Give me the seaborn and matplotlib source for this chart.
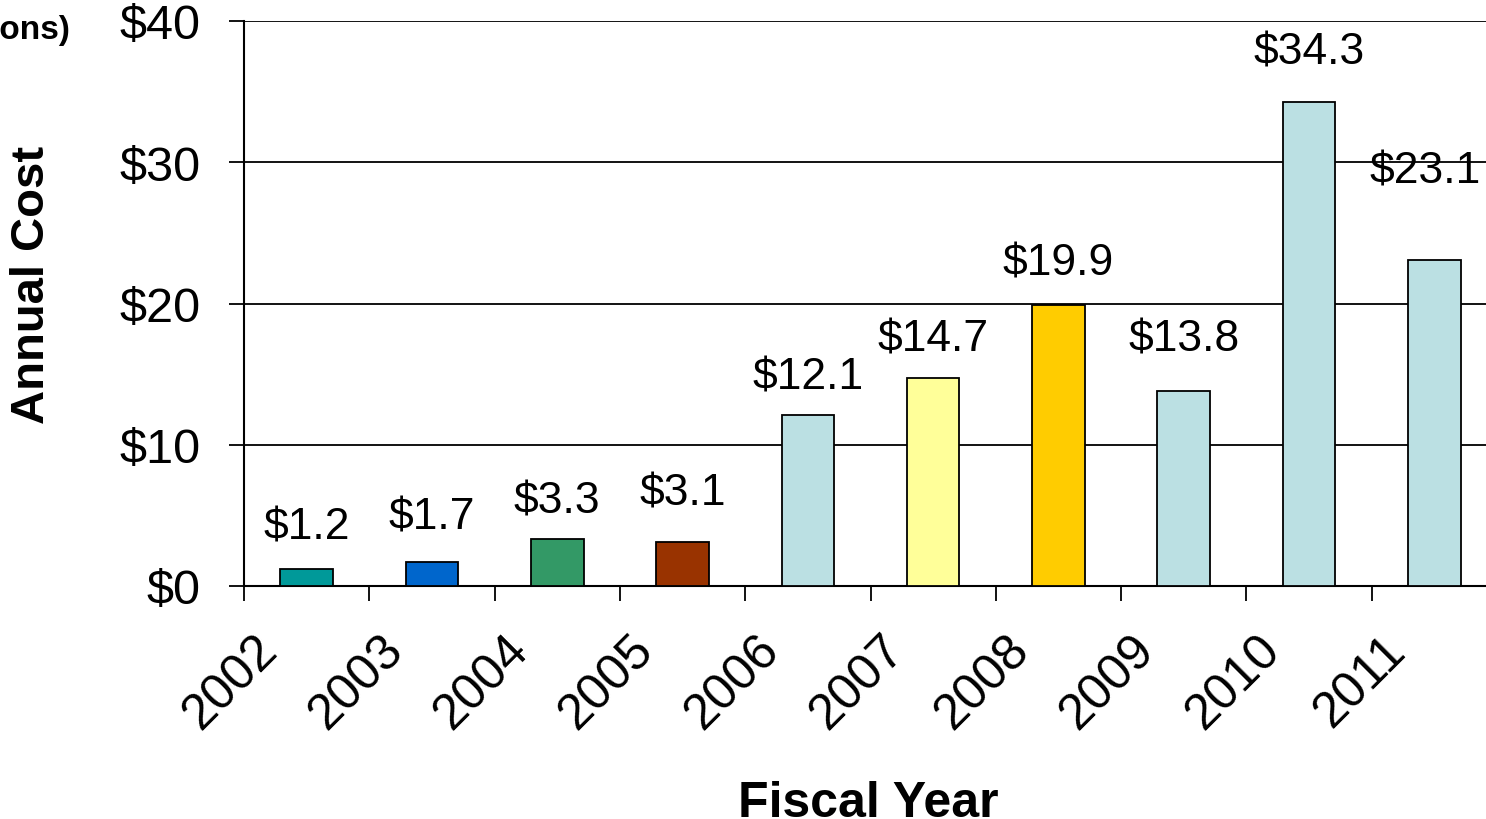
import matplotlib
matplotlib.use("Agg")
import matplotlib.pyplot as plt
import matplotlib.transforms as mtransforms
import seaborn as sns
import pandas as pd

years = ["2002", "2003", "2004", "2005", "2006", "2007", "2008", "2009", "2010", "2011"]
costs = [1.2, 1.7, 3.3, 3.1, 12.1, 14.7, 19.9, 13.8, 34.3, 23.1]
value_labels = ["$1.2", "$1.7", "$3.3", "$3.1", "$12.1", "$14.7", "$19.9", "$13.8", "$34.3", "$23.1"]
bar_colors = ["#009999", "#0066CC", "#339966", "#993300", "#BBE0E3",
              "#FFFF99", "#FFCC00", "#BBE0E3", "#BBE0E3", "#BBE0E3"]
y_ticks = [0, 10, 20, 30, 40]
y_tick_labels = ["$0", "$10", "$20", "$30", "$40"]
# label placement (style)
label_dy = [3.0, 3.2, 2.7, 3.5, 2.7, 2.8, 3.0, 3.7, 3.5, 6.3]
label_dx = [0, 0, 0, 0, 0, 0, 0, 0, 0, -0.07]

sns.set_style("white")
plt.rcParams["font.family"] = ["Liberation Sans", "DejaVu Sans"]
plt.rcParams["text.color"] = "black"
plt.rcParams["xtick.color"] = "black"
plt.rcParams["ytick.color"] = "black"
plt.rcParams["axes.labelcolor"] = "black"

W, H = 1486, 820
fig = plt.figure(figsize=(W / 100, H / 100), dpi=100)
ax = fig.add_axes([244 / W, 1 - 587 / H, 1253 / W, 565 / H])

df = pd.DataFrame({"year": years, "cost": costs})
sns.barplot(data=df, x="year", y="cost", hue="year", palette=bar_colors,
            width=0.42, legend=False, edgecolor="black", linewidth=1.3,
            saturation=1, ax=ax, zorder=3)

ax.set_xlim(-0.5, len(years) - 0.5)
ax.set_ylim(0, 40)
ax.set_yticks(y_ticks)
ax.set_yticklabels(y_tick_labels, fontsize=35)
ax.yaxis.grid(True, color="black", linewidth=1.3, zorder=0)
ax.set_axisbelow(True)

ax.set_xticks([i - 0.5 for i in range(len(years) + 1)])
ax.set_xticklabels([])
ax.set_xticks(range(len(years)), minor=True)
ax.set_xticklabels(years, minor=True, fontsize=36, rotation=45, ha="right", va="top")
ax.tick_params(axis="x", which="major", direction="out", length=11, width=1.3,
               color="black", bottom=True)
ax.tick_params(axis="x", which="minor", length=0, pad=29)
ax.tick_params(axis="y", which="major", direction="out", length=11, width=1.3,
               color="black", left=True, pad=20)
offset = mtransforms.ScaledTranslation(-20 / 100, 0, fig.dpi_scale_trans)
for lbl in ax.get_xticklabels(minor=True):
    lbl.set_transform(lbl.get_transform() + offset)

for s in ["top", "right"]:
    ax.spines[s].set_visible(False)
for s in ["left", "bottom"]:
    ax.spines[s].set_color("black")
    ax.spines[s].set_linewidth(1.5)

ax.set_xlabel("")
ax.set_ylabel("")

for i, (v, t) in enumerate(zip(costs, value_labels)):
    ax.text(i + label_dx[i], v + label_dy[i], t, ha="center", va="center",
            fontsize=32, color="black", zorder=5)

fig.text(32 / W, 1 - 285 / H, "Annual Cost", rotation=90, ha="center", va="center",
         fontsize=34, fontweight="bold")
fig.text(868 / W, 1 - 804 / H, "Fiscal Year", ha="center", va="center",
         fontsize=36, fontweight="bold")
fig.text(70 / W, 1 - 30 / H, "(Dollars in Millions)", ha="right", va="center",
         fontsize=24, fontweight="bold")

fig.savefig("out.png", dpi=100, facecolor="white")
